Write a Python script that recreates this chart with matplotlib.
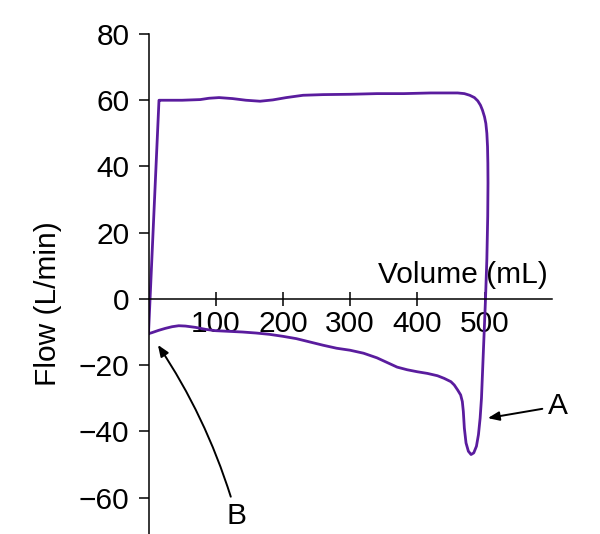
import matplotlib
matplotlib.use('Agg')
import matplotlib.pyplot as plt

plt.rcParams['font.family'] = ['Liberation Sans', 'DejaVu Sans']

# flow-volume loop, traced clockwise from the bottom-left corner
volume = [0, 15.6, 17, 50, 77, 90, 105, 125, 145, 166, 185, 205, 230, 260, 300,
          340, 380, 420, 450, 460, 470, 478, 485, 490, 494, 497, 500, 502, 503.5,
          504.5, 505, 505.2, 504.8, 503.5, 501.5, 499.5, 497.5, 495.5, 493.5, 491,
          488, 484, 480, 476, 472.5, 470, 468.5, 467, 464.5, 460, 455, 450, 440,
          430, 415, 400, 385, 370, 355, 340, 320, 300, 280, 260, 240, 220, 200,
          180, 160, 140, 120, 100, 85, 70, 55, 45, 35, 25, 15, 5, 0]
flow = [-10.5, 60, 60, 60, 60.2, 60.6, 60.8, 60.5, 60, 59.7, 60.1, 60.8, 61.5, 61.7, 61.8,
        62, 62, 62.2, 62.2, 62.2, 62, 61.5, 60.8, 59.8, 58.5, 57, 55, 53, 50,
        46, 41, 35, 25, 12, 0, -10, -20, -30, -36, -41,
        -44.5, -46.5, -47, -46, -43.5, -39, -34, -31, -29, -27.5, -26, -25, -24,
        -23.2, -22.5, -22, -21.4, -20.6, -19.2, -17.8, -16.4, -15.5, -14.9, -14, -13, -12, -11.3,
        -10.7, -10.3, -10, -9.8, -9.6, -9.2, -8.6, -8.2, -8.1, -8.4, -8.9, -9.5, -10.2, -10.5]

x_ticks = [100, 200, 300, 400, 500]
y_ticks = [-60, -40, -20, 0, 20, 40, 60, 80]

fig = plt.figure(figsize=(6, 5.34), dpi=100)
ax = fig.add_axes([0.2475, 0.0, 0.672, 0.9363])

ax.plot(volume, flow, color='#5a1c9e', lw=2.0, solid_joinstyle='round')

ax.set_xlim(0, 600)
ax.set_ylim(-71, 80)
ax.spines['top'].set_visible(False)
ax.spines['right'].set_visible(False)
ax.spines['bottom'].set_position(('data', 0))
ax.spines['left'].set_linewidth(1.1)
ax.spines['bottom'].set_linewidth(1.1)

ax.set_xticks(x_ticks)
ax.set_yticks(y_ticks)
ax.tick_params(axis='x', direction='inout', length=9.4, width=1.1, pad=3.5, labelsize=21.5)
ax.tick_params(axis='y', direction='out', length=7.2, width=1.1, pad=6.5, labelsize=21.5)

ax.text(594.5, 4.7, 'Volume (mL)', ha='right', va='baseline', fontsize=21.5)
fig.text(48 / 600, 1 - 304 / 534, 'Flow (L/min)', rotation=90,
         ha='center', va='center', fontsize=21.5)

ax.annotate('A', xy=(505, -36), xytext=(609, -32.4), ha='center', va='center',
            fontsize=21.5, annotation_clip=False,
            arrowprops=dict(arrowstyle='-|>,head_length=0.45,head_width=0.18',
                            color='black', lw=1.4, mutation_scale=15, shrinkB=0))
ax.annotate('B', xy=(14, -13.9), xytext=(131, -65.6), ha='center', va='center',
            fontsize=21.5, annotation_clip=False,
            arrowprops=dict(arrowstyle='-|>,head_length=0.45,head_width=0.18',
                            color='black', lw=1.4, mutation_scale=15, shrinkB=0,
                            connectionstyle='arc3,rad=0.08'))

fig.savefig('out.png', dpi=100)
